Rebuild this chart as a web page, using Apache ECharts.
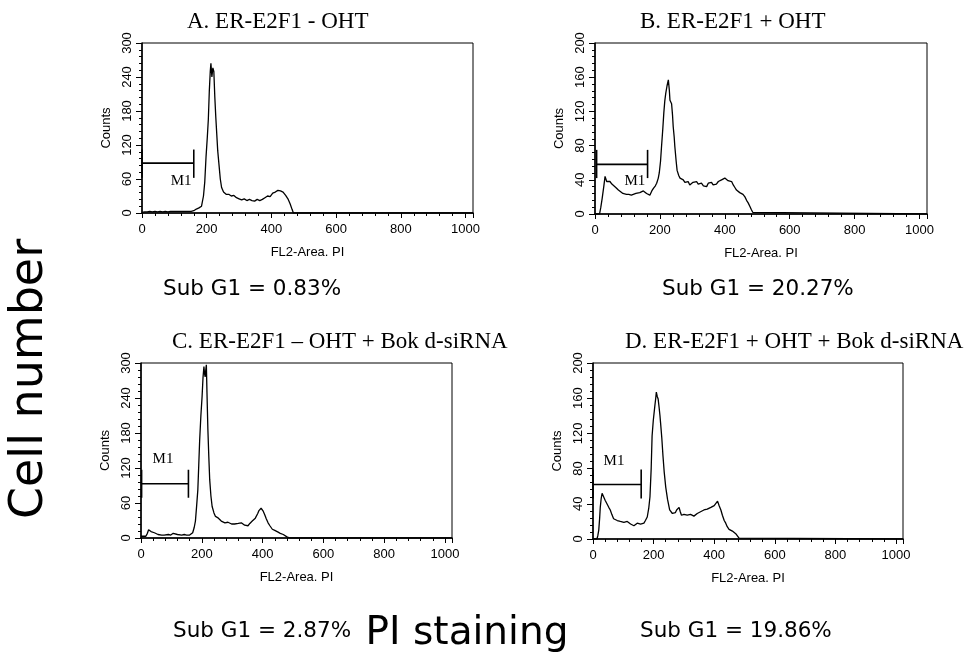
<!DOCTYPE html>
<html><head><meta charset="utf-8">
<script src="https://cdn.jsdelivr.net/npm/echarts@6/dist/echarts.min.js"></script>
<style>html,body{margin:0;padding:0;background:#fff}#c{width:967px;height:658px}</style>
</head><body><div id="c"></div>
<script>
// ---------- data ----------
const panelTitles = ['A. ER-E2F1 - OHT', 'B. ER-E2F1 + OHT', 'C. ER-E2F1 \u2013 OHT + Bok d-siRNA', 'D. ER-E2F1 + OHT + Bok d-siRNA'];
const subG1Labels = ['Sub G1 = 0.83%', 'Sub G1 = 20.27%', 'Sub G1 = 2.87%', 'Sub G1 = 19.86%'];
const xAxisName = 'FL2-Area. PI';
const yAxisName = 'Counts';
const xTickLabels = [0, 200, 400, 600, 800, 1000];
const xMaxChannel = 1023;
const yMaxCounts = [300, 200, 300, 200];
const yTickStep = [60, 40, 60, 40];
const bigYTitle = 'Cell number';
const bigXTitle = 'PI staining';

// histograms: [channel, counts]
const histA = [[0,1],[8,2],[16,2],[24,3],[32,2],[40,3],[48,2],[56,3],[64,2],[72,3],[80,2],[88,3],[96,3],[104,3],[112,3],[120,3],[128,3],[136,3],[144,3],[152,3],[160,4],[168,7],[176,9],[184,12],[190,30],[194,55],[198,100],[202,135],[205,165],[208,215],[211,250],[213,264],[216,240],[219,256],[222,250],[225,205],[228,170],[231,140],[234,110],[238,85],[242,60],[246,45],[252,37],[260,33],[268,33],[276,30],[284,31],[292,27],[300,25],[308,23],[316,25],[324,22],[332,24],[340,22],[348,21],[356,24],[364,22],[372,24],[380,27],[388,30],[396,29],[404,35],[412,37],[420,40],[428,39],[436,37],[444,31],[452,24],[458,16],[464,6],[468,0],[1023,0]];
const histB = [[0,0],[14,0],[18,8],[22,18],[27,32],[31,44],[36,38],[41,40],[46,38],[52,35],[56,34],[64,31],[72,28],[77,26],[86,24],[92,24],[97,23],[104,23],[112,22],[118,22],[126,24],[132,23],[138,25],[144,26],[149,27],[154,25],[159,24],[164,23],[169,22],[175,27],[180,30],[186,33],[190,36],[195,42],[198,48],[202,62],[205,79],[209,100],[212,118],[215,132],[218,141],[222,150],[226,157],[229,145],[231,133],[234,135],[236,129],[239,115],[241,102],[244,90],[246,79],[250,62],[253,51],[258,45],[262,42],[267,41],[272,40],[277,37],[282,36],[287,38],[292,34],[297,34],[302,37],[308,35],[313,38],[318,35],[323,37],[328,36],[334,33],[339,35],[344,32],[349,36],[354,34],[359,37],[364,34],[369,36],[374,35],[380,38],[385,37],[390,40],[395,38],[400,42],[405,43],[410,39],[416,41],[421,38],[426,34],[431,31],[436,28],[441,27],[446,25],[451,24],[456,23],[462,20],[467,16],[472,13],[477,9],[482,5],[486,2],[489,0],[1023,0]];
const histC = [[0,3],[8,3],[16,3],[21,8],[25,14],[29,12],[33,11],[38,10],[44,9],[50,7],[56,6],[60,6],[68,5],[76,5],[82,5],[90,6],[98,5],[106,8],[112,5],[120,6],[126,8],[134,5],[142,6],[150,5],[160,5],[166,7],[170,9],[175,18],[179,29],[183,55],[187,83],[190,125],[193,168],[197,210],[201,243],[204,275],[207,294],[209,282],[211,276],[213,288],[215,297],[217,250],[220,186],[223,140],[226,100],[230,72],[234,54],[240,43],[245,37],[252,35],[258,32],[264,29],[270,28],[276,26],[281,29],[286,27],[292,25],[298,24],[303,23],[308,24],[314,22],[320,25],[325,27],[330,26],[336,24],[341,22],[347,23],[352,21],[358,25],[362,27],[366,29],[372,31],[376,34],[380,37],[384,42],[388,47],[391,49],[395,51],[398,52],[402,46],[407,40],[412,33],[418,26],[424,21],[432,15],[440,13],[446,11],[451,10],[458,8],[464,7],[468,6],[474,4],[480,2],[484,1],[490,0],[1023,0]];
const histD = [[0,0],[13,0],[16,4],[19,10],[22,24],[24,36],[27,46],[30,52],[33,50],[35,48],[40,44],[46,40],[52,36],[57,33],[62,28],[68,23],[74,22],[80,21],[85,21],[90,20],[96,19],[102,19],[108,18],[113,20],[118,19],[124,17],[130,16],[135,15],[140,17],[146,18],[151,19],[157,17],[162,18],[168,18],[173,21],[179,25],[184,35],[188,48],[192,80],[195,117],[199,135],[204,151],[207,160],[209,167],[212,162],[215,159],[218,150],[221,140],[223,132],[227,115],[231,94],[235,76],[240,59],[246,45],[253,33],[258,31],[262,29],[267,27],[272,30],[276,33],[280,34],[284,36],[288,31],[292,27],[295,25],[300,28],[306,26],[311,27],[316,25],[322,28],[328,27],[333,26],[338,28],[344,29],[350,27],[355,31],[361,31],[366,33],[372,32],[377,34],[383,35],[389,36],[394,37],[400,38],[405,40],[411,43],[416,38],[422,33],[427,27],[433,21],[438,18],[443,14],[449,11],[455,10],[460,9],[466,8],[471,6],[477,4],[482,1],[488,0],[1023,0]];
const histograms = [histA, histB, histC, histD];

// M1 gate: [startChannel, endChannel]
const gateA = [0, 160];
const gateB = [5, 162];
const gateC = [2, 156];
const gateD = [0, 159];
const gates = [gateA, gateB, gateC, gateD];
const gateName = 'M1';

// ---------- layout (positions / styles only) ----------
const grids = [
  {left: 142, top: 43, width: 331, height: 170},
  {left: 595, top: 43, width: 332, height: 171},
  {left: 141, top: 363, width: 311, height: 175},
  {left: 593, top: 363, width: 310, height: 176}
];
// gate bar level, tick half-extent and label placement per panel (in counts)
const gateLayout = [
  {y: 88, lo: 62, hi: 112, lx: 153, ly: 57, align: 'right'},
  {y: 58, lo: 42, hi: 75, lx: 155, ly: 39, align: 'right'},
  {y: 93, lo: 69, hi: 117, lx: 38, ly: 135, align: 'left'},
  {y: 62, lo: 46, hi: 79, lx: 35, ly: 89, align: 'left'}
];
const titlePos = [[187, 33, 'left'], [640, 33, 'left'], [172, 353, 'left'], [625, 353, 'left']];
const subPos = [[163, 289], [662, 289], [173, 631], [640, 631]];

const serif = '"Liberation Serif", "Times New Roman", serif';
const sans = '"Liberation Sans", Arial, sans-serif';
const sub = '"DejaVu Sans", Verdana, sans-serif';

const chart = echarts.init(document.getElementById('c'), null, {renderer: 'canvas'});

const option = {
  animation: false,
  backgroundColor: '#fff',
  grid: grids.map(g => Object.assign({show: true, borderColor: '#000', borderWidth: 1, containLabel: false}, g)),
  xAxis: grids.map((g, i) => ({
    gridIndex: i, type: 'value', min: 0, max: xMaxChannel, interval: 200,
    name: xAxisName, nameLocation: 'middle', nameGap: 33,
    nameTextStyle: {fontFamily: sans, fontSize: 13, color: '#000'},
    axisLine: {show: true, onZero: false, lineStyle: {color: '#000', width: 1.5}},
    axisTick: {show: true, length: 5, lineStyle: {color: '#000', width: 1}},
    minorTick: {show: true, splitNumber: 5, length: 3, lineStyle: {color: '#000', width: 1}},
    splitLine: {show: false},
    axisLabel: {color: '#000', fontFamily: sans, fontSize: 13, margin: 10, showMaxLabel: false,
      formatter: v => xTickLabels.indexOf(v) >= 0 ? String(v) : ''}
  })),
  yAxis: grids.map((g, i) => ({
    gridIndex: i, type: 'value', min: 0, max: yMaxCounts[i], interval: yTickStep[i],
    name: yAxisName, nameLocation: 'middle', nameGap: 29, nameRotate: 90,
    nameTextStyle: {fontFamily: sans, fontSize: 13, color: '#000'},
    axisLine: {show: true, onZero: false, lineStyle: {color: '#000', width: 1.5}},
    axisTick: {show: true, length: 6, lineStyle: {color: '#000', width: 1}},
    minorTick: {show: true, splitNumber: 5, length: 3, lineStyle: {color: '#000', width: 1}},
    splitLine: {show: false},
    axisLabel: {color: '#000', fontFamily: sans, fontSize: 13, margin: 8, rotate: 90}
  })),
  series: [],
  graphic: []
};

histograms.forEach((h, i) => {
  option.series.push({
    type: 'line', xAxisIndex: i, yAxisIndex: i, data: h,
    showSymbol: false, symbol: 'none', silent: true,
    lineStyle: {color: '#000', width: 1.3}
  });
  const L = gateLayout[i];
  option.series.push({
    type: 'custom', xAxisIndex: i, yAxisIndex: i, silent: true, clip: false,
    data: [[gates[i][0], gates[i][1], L.y, L.lo, L.hi, L.lx, L.ly]],
    renderItem: function (params, api) {
      const a = api.coord([api.value(0), api.value(2)]);
      const b = api.coord([api.value(1), api.value(2)]);
      const aLo = api.coord([api.value(0), api.value(3)]);
      const aHi = api.coord([api.value(0), api.value(4)]);
      const bLo = api.coord([api.value(1), api.value(3)]);
      const bHi = api.coord([api.value(1), api.value(4)]);
      const t = api.coord([api.value(5), api.value(6)]);
      const st = {stroke: '#000', lineWidth: 1.6};
      return {type: 'group', children: [
        {type: 'line', shape: {x1: a[0], y1: a[1], x2: b[0], y2: b[1]}, style: st},
        {type: 'line', shape: {x1: aLo[0], y1: aLo[1], x2: aHi[0], y2: aHi[1]}, style: st},
        {type: 'line', shape: {x1: bLo[0], y1: bLo[1], x2: bHi[0], y2: bHi[1]}, style: st},
        {type: 'text', x: t[0], y: t[1], style: {text: gateName, fill: '#000', font: '15px ' + serif,
          textAlign: L.align, textVerticalAlign: 'middle'}}
      ]};
    }
  });
  option.graphic.push({type: 'text', x: titlePos[i][0], y: titlePos[i][1],
    style: {text: panelTitles[i], fill: '#000', font: '23px ' + serif, textAlign: titlePos[i][2], textVerticalAlign: 'bottom'}});
  option.graphic.push({type: 'text', x: subPos[i][0], y: subPos[i][1],
    style: {text: subG1Labels[i], fill: '#000', font: '21.5px ' + sub, textAlign: 'left', textVerticalAlign: 'middle'}});
});

option.graphic.push({type: 'text', x: 30, y: 379, rotation: Math.PI / 2,
  style: {text: bigYTitle, fill: '#000', font: '46px ' + sub, textAlign: 'center', textVerticalAlign: 'middle'}});
option.graphic.push({type: 'text', x: 467, y: 634,
  style: {text: bigXTitle, fill: '#000', font: '39px ' + sub, textAlign: 'center', textVerticalAlign: 'middle'}});

chart.setOption(option);
</script>
</body></html>
